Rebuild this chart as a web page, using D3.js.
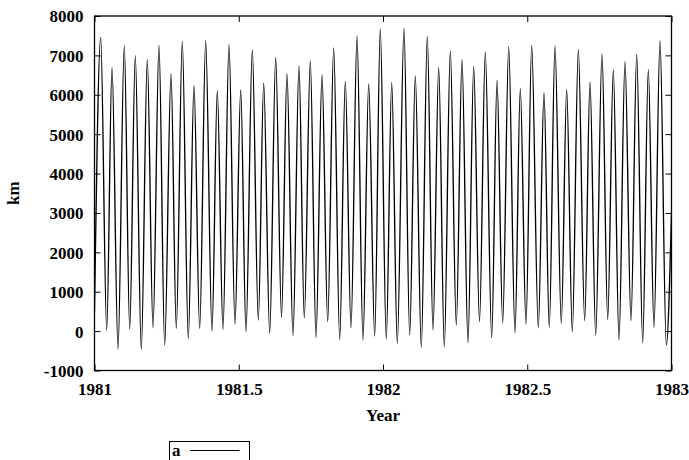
<!DOCTYPE html>
<html>
<head>
<meta charset="utf-8">
<script src="https://cdn.jsdelivr.net/npm/d3@7"></script>
<style>
  html, body { margin: 0; padding: 0; background: #fff; }
  svg { display: block; }
  text { font-family: "Liberation Serif", "Times New Roman", serif; font-weight: bold; fill: #000; }
</style>
</head>
<body>
<svg id="chart" width="689" height="460"></svg>
<script>
// Turning points (alternating maxima / minima) of series "a"
const years = [
  1981.000, 1981.0215, 1981.0423, 1981.0607, 1981.0815, 1981.1033, 1981.1220, 1981.1414,
  1981.1622, 1981.1830, 1981.2028, 1981.2236, 1981.2433, 1981.2652, 1981.2835, 1981.3043,
  1981.3251, 1981.3449, 1981.3646, 1981.3854, 1981.4073, 1981.4256, 1981.4454, 1981.4662,
  1981.4870, 1981.5068, 1981.5251, 1981.5470, 1981.5678, 1981.5865, 1981.6073, 1981.6281,
  1981.6482, 1981.6672, 1981.6880, 1981.7088, 1981.7272, 1981.7480, 1981.7678, 1981.7886,
  1981.8083, 1981.8291, 1981.8499, 1981.8693, 1981.8891, 1981.9099, 1981.9307, 1981.9504,
  1981.9712, 1981.9906, 1982.0114, 1982.0302, 1982.0496, 1982.0728, 1982.0925, 1982.1120,
  1982.1328, 1982.1535, 1982.1733, 1982.1931, 1982.2125, 1982.2333, 1982.2541, 1982.2738,
  1982.2946, 1982.3144, 1982.3345, 1982.3546, 1982.3768, 1982.3952, 1982.4149, 1982.4357,
  1982.4575, 1982.4759, 1982.4957, 1982.5154, 1982.5383, 1982.5581, 1982.5764, 1982.5962,
  1982.6180, 1982.6367, 1982.6562, 1982.6770, 1982.6991, 1982.7175, 1982.7373, 1982.7591,
  1982.7789, 1982.7983, 1982.8180, 1982.8388, 1982.8596, 1982.8794, 1982.9002, 1982.9196,
  1982.9393, 1982.9601, 1982.9820, 1983.000
];
const km = [
  500, 7459, 28, 6687, -462, 7246, 53, 6992,
  -462, 6890, 86, 7256, -353, 6535, 71, 7357,
  -183, 6230, 71, 7372, 3, 6113, 46, 7281,
  180, 6121, -15, 7136, 282, 6298, -56, 6951,
  358, 6535, -116, 6730, 340, 6857, -157, 6509,
  239, 7187, -208, 6342, 86, 7492, -226, 6273,
  -124, 7669, -200, 6316, -310, 7687, -99, 6476,
  -411, 7484, 28, 6687, -396, 7111, 155, 6890,
  -295, 6712, 239, 7085, -168, 6367, 213, 7212,
  -41, 6154, 180, 7256, 86, 6052, 96, 7238,
  198, 6128, -15, 7154, 264, 6324, -99, 7035,
  300, 6636, -226, 6839, 264, 7027, -295, 6636,
  96, 7372, -353, 3000
];
const yTicks = [-1000, 0, 1000, 2000, 3000, 4000, 5000, 6000, 7000, 8000];
const xTicks = [1981, 1981.5, 1982, 1982.5, 1983];
const xTickLabels = ["1981", "1981.5", "1982", "1982.5", "1983"];
const seriesName = "a";
const xTitle = "Year";
const yTitle = "km";

const data = years.map((t, i) => ({ t, v: km[i] }));

const svg = d3.select("#chart");
const L = 94.5, R = 671.5, T = 16, B = 370.5;
const x = d3.scaleLinear().domain([1981, 1983]).range([L, R]);
const y = d3.scaleLinear().domain([-1000, 8000]).range([B, T]);
const tickLen = 6;

svg.append("clipPath").attr("id", "clip")
  .append("rect").attr("x", L).attr("y", T).attr("width", R - L).attr("height", B - T);

// Axes with inward ticks (gnuplot style), mirrored
const gLeft = svg.append("g").attr("transform", `translate(${L},0)`)
  .call(d3.axisLeft(y).tickValues(yTicks).tickSizeInner(-tickLen).tickSizeOuter(0).tickPadding(11).tickFormat(d => String(d)));
const gRight = svg.append("g").attr("transform", `translate(${R},0)`)
  .call(d3.axisRight(y).tickValues(yTicks).tickSizeInner(-tickLen).tickSizeOuter(0).tickFormat(""));
const gBottom = svg.append("g").attr("transform", `translate(0,${B})`)
  .call(d3.axisBottom(x).tickValues(xTicks).tickSizeInner(-tickLen).tickSizeOuter(0).tickPadding(12)
    .tickFormat((d, i) => xTickLabels[i]));
const gTop = svg.append("g").attr("transform", `translate(0,${T})`)
  .call(d3.axisTop(x).tickValues(xTicks).tickSizeInner(-tickLen).tickSizeOuter(0).tickFormat(""));

[gLeft, gRight, gBottom, gTop].forEach(g => {
  g.select(".domain").remove();
  g.selectAll(".tick line").attr("stroke", "#000").attr("stroke-width", 1);
  g.selectAll("text").attr("font-size", 17).attr("font-family", "Liberation Serif, serif")
    .attr("font-weight", "bold").attr("fill", "#000");
});
gLeft.selectAll("text").attr("dy", "0.35em");
gBottom.selectAll("text").attr("dy", "0.71em");

// Series line
const line = d3.line().x(d => x(d.t)).y(d => y(d.v)).curve(d3.curveMonotoneX);
svg.append("path").datum(data)
  .attr("clip-path", "url(#clip)")
  .attr("fill", "none").attr("stroke", "#000").attr("stroke-width", 1.35)
  .attr("d", line);

// Frame
svg.append("rect").attr("x", L).attr("y", T).attr("width", R - L).attr("height", B - T)
  .attr("fill", "none").attr("stroke", "#000").attr("stroke-width", 1.3);

// Axis titles
svg.append("text").attr("x", (L + R) / 2).attr("y", 421).attr("text-anchor", "middle")
  .attr("font-size", 17).text(xTitle);
svg.append("text").attr("transform", `translate(19,${(T + B) / 2}) rotate(-90)`)
  .attr("text-anchor", "middle").attr("font-size", 17).text(yTitle);

// Legend
const lg = svg.append("g");
lg.append("rect").attr("x", 169.5).attr("y", 441.5).attr("width", 80).attr("height", 19)
  .attr("fill", "none").attr("stroke", "#000").attr("stroke-width", 1);
lg.append("text").attr("x", 172).attr("y", 456).attr("font-size", 17).text(seriesName);
lg.append("line").attr("x1", 190).attr("x2", 239.5).attr("y1", 450.5).attr("y2", 450.5)
  .attr("stroke", "#000").attr("stroke-width", 1.1);
</script>
</body>
</html>
